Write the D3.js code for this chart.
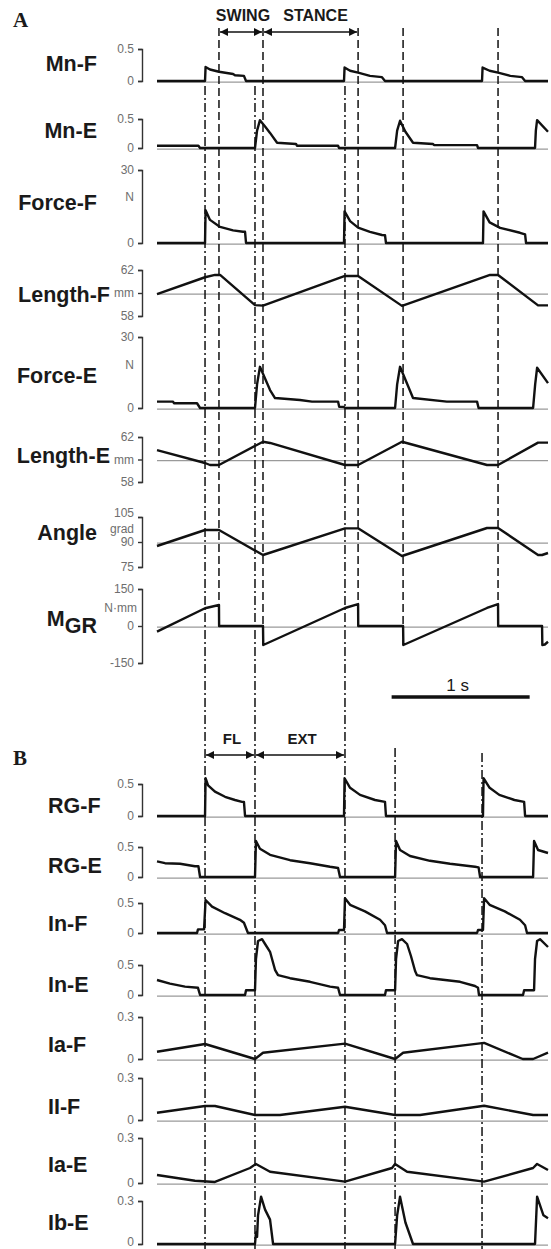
<!DOCTYPE html>
<html lang="en">
<head>
<meta charset="UTF-8">
<title>Locomotor traces</title>
<script src="https://cdn.jsdelivr.net/npm/d3@7"></script>
<style>
    body { margin: 0; background: #fff; }
    text { font-family: "Liberation Sans", Arial, sans-serif; }
    text.panel { font-family: "Liberation Serif", "Times New Roman", serif; }
</style>
</head>
<body>
<div id="container"></div>
<script>
// time in s, value in the row's own unit
const mnF = [[0,0],[0.348,0],[0.352,0.22],[0.384,0.18],[0.449,0.145],[0.551,0.11],[0.565,0.09],[0.63,0.08],[0.645,0],
    [1.355,0],[1.359,0.21],[1.399,0.16],[1.457,0.13],[1.543,0.08],[1.63,0.06],[1.652,0],
    [2.355,0],[2.359,0.21],[2.41,0.16],[2.471,0.13],[2.56,0.08],[2.645,0.06],[2.667,0],[2.833,0]];
const mnE = [[0,0.04],[0.30,0.04],[0.312,0],[0.71,0],[0.725,0.3],[0.746,0.48],[0.783,0.37],[0.819,0.26],[0.87,0.09],[1.007,0.07],[1.014,0.04],[1.312,0.04],[1.319,0],
    [1.725,0],[1.74,0.3],[1.761,0.47],[1.80,0.28],[1.855,0.09],[2.0,0.07],[2.007,0.05],[2.319,0.05],[2.326,0],
    [2.739,0],[2.745,0.3],[2.754,0.48],[2.833,0.28]];
const forceF = [[0,0],[0.348,0],[0.352,13.5],[0.384,9.5],[0.457,6.6],[0.551,5.2],[0.623,4.6],[0.638,4.6],[0.645,0],
    [1.355,0],[1.359,13],[1.399,9],[1.457,6.3],[1.543,4.6],[1.63,3.3],[1.652,3.2],[1.659,0],
    [2.362,0],[2.366,13],[2.41,8.5],[2.486,6.2],[2.63,4.2],[2.667,3.5],[2.674,0],[2.833,0]];
const lengthF = [[0,59.9],[0.348,61.37],[0.42,61.57],[0.457,61.57],[0.71,58.95],[0.768,58.9],[1.362,61.48],[1.457,61.48],
    [1.775,58.88],[2.413,61.57],[2.471,61.57],[2.761,58.92],[2.833,58.92]];
const forceE = [[0,2.7],[0.116,2.7],[0.123,2.0],[0.29,2.0],[0.312,0],[0.71,0],[0.725,10],[0.746,17.4],[0.819,7.6],[0.855,4.2],
    [1.036,3.4],[1.123,2.7],[1.312,2.7],[1.32,0.5],[1.355,0.4],[1.362,0],
    [1.725,0],[1.74,10],[1.761,17.4],[1.855,4.2],[2.1,2.7],[2.319,2.7],[2.33,0],
    [2.725,0],[2.74,10],[2.754,17],[2.833,10.5]];
const lengthE = [[0,60.84],[0.348,59.69],[0.384,59.51],[0.449,59.51],[0.768,61.58],[0.819,61.47],[1.362,59.51],[1.457,59.51],
    [1.775,61.58],[2.391,59.51],[2.471,59.51],[2.761,61.5],[2.833,61.5]];
const angle = [[0,87.6],[0.348,97.2],[0.449,97.2],[0.768,82.2],[1.362,98.2],[1.457,98.2],[1.775,81.6],[2.391,98.4],
    [2.471,98.4],[2.761,82.2],[2.79,82.2],[2.833,83.4]];
const mgr = [[0,-23],[0.348,72],[0.449,85],[0.45,0],[0.768,0],[0.77,-77],[1.362,73],[1.457,89],[1.458,0],[1.783,0],[1.785,-77],
    [2.391,73],[2.471,89],[2.472,0],[2.79,0],[2.792,-77],[2.81,-75],[2.833,-64]];

const rgF = [[0,0],[0.348,0],[0.352,0.59],[0.37,0.48],[0.42,0.38],[0.493,0.30],[0.565,0.25],[0.616,0.22],[0.63,0.22],[0.638,0],
    [1.355,0],[1.359,0.59],[1.399,0.44],[1.471,0.33],[1.58,0.25],[1.652,0.22],[1.659,0],
    [2.362,0],[2.366,0.59],[2.41,0.44],[2.48,0.33],[2.59,0.25],[2.66,0.22],[2.667,0],[2.833,0]];
const rgE = [[0,0.26],[0.058,0.23],[0.167,0.22],[0.275,0.18],[0.30,0.18],[0.312,0],[0.71,0],[0.717,0.6],[0.746,0.47],[0.819,0.37],
    [0.964,0.28],[1.109,0.23],[1.254,0.17],[1.312,0.15],[1.326,0],
    [1.725,0],[1.732,0.6],[1.761,0.45],[1.833,0.35],[1.978,0.27],[2.123,0.22],[2.304,0.17],[2.33,0.16],[2.341,0],
    [2.725,0],[2.732,0.6],[2.761,0.45],[2.833,0.4]];
const inF = [[0,0],[0.29,0],[0.297,0.06],[0.341,0.06],[0.352,0.55],[0.399,0.44],[0.493,0.33],[0.601,0.22],[0.63,0.17],[0.659,0],
    [1.312,0],[1.319,0.05],[1.355,0.05],[1.362,0.58],[1.399,0.47],[1.507,0.36],[1.616,0.22],[1.652,0.13],[1.667,0],
    [2.319,0],[2.326,0.05],[2.362,0.05],[2.37,0.58],[2.41,0.47],[2.52,0.36],[2.63,0.22],[2.667,0.13],[2.681,0],[2.833,0]];
const inE = [[0,0.25],[0.094,0.19],[0.203,0.14],[0.297,0.12],[0.312,0],[0.638,0],[0.645,0.08],[0.71,0.08],
    [0.717,0.6],[0.732,0.9],[0.761,0.93],[0.783,0.85],[0.819,0.72],[0.855,0.42],[0.877,0.33],[0.964,0.28],[1.109,0.22],[1.254,0.14],[1.312,0.12],[1.326,0],
    [1.652,0],[1.659,0.08],[1.725,0.08],[1.732,0.6],[1.747,0.9],[1.775,0.93],[1.812,0.85],[1.84,0.65],[1.87,0.4],[1.884,0.33],
    [1.978,0.28],[2.196,0.22],[2.304,0.15],[2.326,0.12],[2.333,0],
    [2.652,0],[2.66,0.08],[2.732,0.08],[2.739,0.6],[2.754,0.9],[2.775,0.93],[2.833,0.8]];
const iaF = [[0,0.052],[0.348,0.107],[0.71,0],[0.768,0.045],[1.362,0.11],[1.725,0],[1.783,0.045],[2.37,0.115],[2.65,0],[2.725,0],[2.833,0.045]];
const iiF = [[0,0.052],[0.348,0.1],[0.42,0.1],[0.71,0.036],[0.891,0.036],[1.362,0.095],[1.725,0.036],[1.906,0.036],[2.37,0.102],[2.725,0.036],[2.833,0.036]];
const iaE = [[0,0.053],[0.275,0.015],[0.42,0.007],[0.674,0.1],[0.717,0.127],[0.819,0.075],[1.362,0.009],[1.703,0.1],[1.725,0.127],
    [1.812,0.075],[2.37,0.009],[2.725,0.1],[2.754,0.127],[2.833,0.087]];
const ibE = [[0,0],[0.71,0],[0.717,0.08],[0.725,0.05],[0.732,0.2],[0.754,0.33],[0.783,0.24],[0.819,0.17],[0.841,0],
    [1.725,0],[1.74,0.2],[1.761,0.33],[1.80,0.15],[1.855,0],[2.739,0],[2.754,0.33],[2.80,0.2],[2.833,0.18]];

const rowNames = ["Mn-F", "Mn-E", "Force-F", "Length-F", "Force-E", "Length-E", "Angle", "MGR",
    "RG-F", "RG-E", "In-F", "In-E", "Ia-F", "II-F", "Ia-E", "Ib-E"];
const traces = [mnF, mnE, forceF, lengthF, forceE, lengthE, angle, mgr, rgF, rgE, inF, inE, iaF, iiF, iaE, ibE];
const rowDomains = [[0,0.5],[0,0.5],[0,30],[58,62],[0,30],[58,62],[75,105],[-150,150],
    [0,0.5],[0,0.5],[0,0.5],[0,0.5],[0,0.3],[0,0.3],[0,0.3],[0,0.3]];
const rowTicks = [[0,0.5],[0,0.5],[0,30],[58,60,62],[0,30],[58,60,62],[75,90,105],[-150,0,150],
    [0,0.5],[0,0.5],[0,0.5],[0,0.5],[0,0.3],[0,0.3],[0,0.3],[0,0.3]];
const rowTickLabels = [["0","0.5"],["0","0.5"],["0","30"],["58","mm","62"],["0","30"],["58","mm","62"],["75","90","105"],["-150","0","150"],
    ["0","0.5"],["0","0.5"],["0","0.5"],["0","0.5"],["0","0.3"],["0","0.3"],["0","0.3"],["0","0.3"]];
const rowUnits = ["", "", "N", "", "N", "", "grad", "N\u00b7mm", "", "", "", "", "", "", "", ""];
const rowRefs = [0, 0, 0, 60, 0, 60, 90, 0, 0, 0, 0, 0, 0, 0, 0, 0];

// event times (s)
const flexOnsets = [0.348, 1.362, 2.355];
const extOnsets = [0.71, 1.725];
const swingOnsets = [0.449, 1.457, 2.471];
const stanceOnsets = [0.768, 1.783];
const scaleBarStart = 1.70;

// layout (px)
const rowPx = [[81,49],[148,119],[243,170],[316,270],[408,337],[482,437],[567,517],[663,589],
    [816,784],[877,847],[933,903],[995,965],[1059,1017],[1120,1078],[1183,1138],[1244,1201]];
const labelPos = [[97,71,"end"],[97,138,"end"],[97,210,"end"],[110,302,"end"],[97,383,"end"],[110,463,"end"],[97,540,"end"],[97,626,"end"],
    [48,813,"start"],[48,873,"start"],[48,931,"start"],[48,992,"start"],[48,1052,"start"],[48,1114,"start"],[48,1172,"start"],[48,1230,"start"]];
const unitY = [0, 0, 197, 0, 365, 0, 529, 608];

const W = 551, H = 1249;
const svg = d3.select("#container").append("svg")
    .attr("width", W).attr("height", H)
    .style("background", "#fff");

const x = d3.scaleLinear().domain([0, 2.833]).range([157, 548]);

// arrow heads
const defs = svg.append("defs");
["start", "end"].forEach(k => {
    defs.append("marker")
        .attr("id", "arr-" + k)
        .attr("viewBox", "0 0 10 10")
        .attr("refX", k === "end" ? 10 : 0).attr("refY", 5)
        .attr("markerWidth", 9).attr("markerHeight", 8)
        .attr("markerUnits", "userSpaceOnUse")
        .attr("orient", "auto")
        .append("path")
        .attr("d", k === "end" ? "M0,0L10,5L0,10Z" : "M10,0L0,5L10,10Z")
        .attr("fill", "#111");
});

// gray reference lines
traces.forEach((tr, i) => {
    const y = d3.scaleLinear().domain(rowDomains[i]).range(rowPx[i]);
    svg.append("line")
        .attr("x1", x(0)).attr("x2", x(2.833))
        .attr("y1", y(rowRefs[i]) + 1.2).attr("y2", y(rowRefs[i]) + 1.2)
        .attr("stroke", "#9a9a9a").attr("stroke-width", 1.2);
});

// vertical event lines
function vline(t, y1, y2, dash) {
    svg.append("line")
        .attr("x1", x(t)).attr("x2", x(t))
        .attr("y1", y1).attr("y2", y2)
        .attr("stroke", "#111").attr("stroke-width", 1.5)
        .attr("stroke-dasharray", dash);
}
const dashDot = "9,3,2,3", dashed = "8,4";
[flexOnsets[0], extOnsets[0], flexOnsets[1]].forEach(t => vline(t, 86, H, dashDot));
vline(extOnsets[1], 748, H, dashDot);
vline(flexOnsets[2], 753, H, dashDot);
swingOnsets.forEach(t => vline(t, 28, 606, dashed));
stanceOnsets.forEach(t => vline(t, 28, 645, dashed));

// traces, brackets, labels
const line = d3.line();
traces.forEach((tr, i) => {
    const y = d3.scaleLinear().domain(rowDomains[i]).range(rowPx[i]);

    const ax = svg.append("g")
        .attr("transform", "translate(142,0)")
        .call(d3.axisLeft(y).tickValues(rowTicks[i])
            .tickFormat((d, j) => rowTickLabels[i][j])
            .tickSize(4).tickPadding(4));
    ax.attr("font-family", null);
    ax.selectAll("path, line").attr("stroke", "#333").attr("stroke-width", 1.4);
    ax.selectAll("text").attr("font-size", 12).attr("fill", "#6e6e6e");
    // 105 sits a little above its tick to make room for "grad"
    if (i === 6) ax.selectAll("text").filter(d => d === 105).attr("dy", "-0.05em");
    if (i === traces.length - 1) ax.selectAll("text").filter(d => d === 0).attr("dy", "0.1em");

    if (rowUnits[i]) {
        svg.append("text")
            .attr("x", i === 7 ? 137 : 134).attr("y", unitY[i])
            .attr("dy", "0.35em")
            .attr("text-anchor", "end")
            .attr("font-size", 12).attr("fill", "#6e6e6e")
            .text(rowUnits[i]);
    }

    svg.append("path")
        .datum(tr)
        .attr("d", line.x(d => x(d[0])).y(d => y(d[1])))
        .attr("fill", "none")
        .attr("stroke", "#111")
        .attr("stroke-width", 2.4)
        .attr("stroke-linejoin", "round");

    const [lx, ly, anchor] = labelPos[i];
    const lab = svg.append("text")
        .attr("x", lx).attr("y", ly)
        .attr("text-anchor", anchor)
        .attr("font-size", 21.5).attr("font-weight", "bold")
        .attr("fill", "#1a1a1a");
    if (rowNames[i] === "MGR") {
        lab.append("tspan").text("M");
        lab.append("tspan").attr("dy", 7).text("GR");
    } else {
        lab.text(rowNames[i]);
    }
});

// phase arrows
function phaseArrow(t1, t2, yy, label, size) {
    svg.append("line")
        .attr("x1", x(t1) + 1).attr("x2", x(t2) - 1)
        .attr("y1", yy).attr("y2", yy)
        .attr("stroke", "#111").attr("stroke-width", 1.5)
        .attr("marker-start", "url(#arr-start)")
        .attr("marker-end", "url(#arr-end)");
    svg.append("text")
        .attr("x", (x(t1) + x(t2)) / 2 + (label === "STANCE" ? 5 : 2))
        .attr("y", yy - 11)
        .attr("text-anchor", "middle")
        .attr("font-size", size).attr("font-weight", "bold")
        .attr("fill", "#1a1a1a")
        .text(label);
}
phaseArrow(swingOnsets[0], stanceOnsets[0], 32, "SWING", 16);
phaseArrow(stanceOnsets[0], swingOnsets[1], 32, "STANCE", 16);
phaseArrow(flexOnsets[0], extOnsets[0], 755, "FL", 15);
phaseArrow(extOnsets[0], flexOnsets[1], 755, "EXT", 15);

// time scale bar
svg.append("line")
    .attr("x1", x(scaleBarStart)).attr("x2", x(scaleBarStart + 1))
    .attr("y1", 697).attr("y2", 697)
    .attr("stroke", "#111").attr("stroke-width", 3.5);
svg.append("text")
    .attr("x", (x(scaleBarStart) + x(scaleBarStart + 1)) / 2 - 3)
    .attr("y", 691)
    .attr("text-anchor", "middle")
    .attr("font-size", 17).attr("fill", "#1a1a1a")
    .text("1 s");

// panel letters
[["A", 27], ["B", 765]].forEach(([t, yy]) => {
    svg.append("text")
        .attr("class", "panel")
        .attr("x", 13).attr("y", yy)
        .attr("font-size", 21).attr("font-weight", "bold")
        .attr("fill", "#1a1a1a")
        .text(t);
});
</script>
</body>
</html>
